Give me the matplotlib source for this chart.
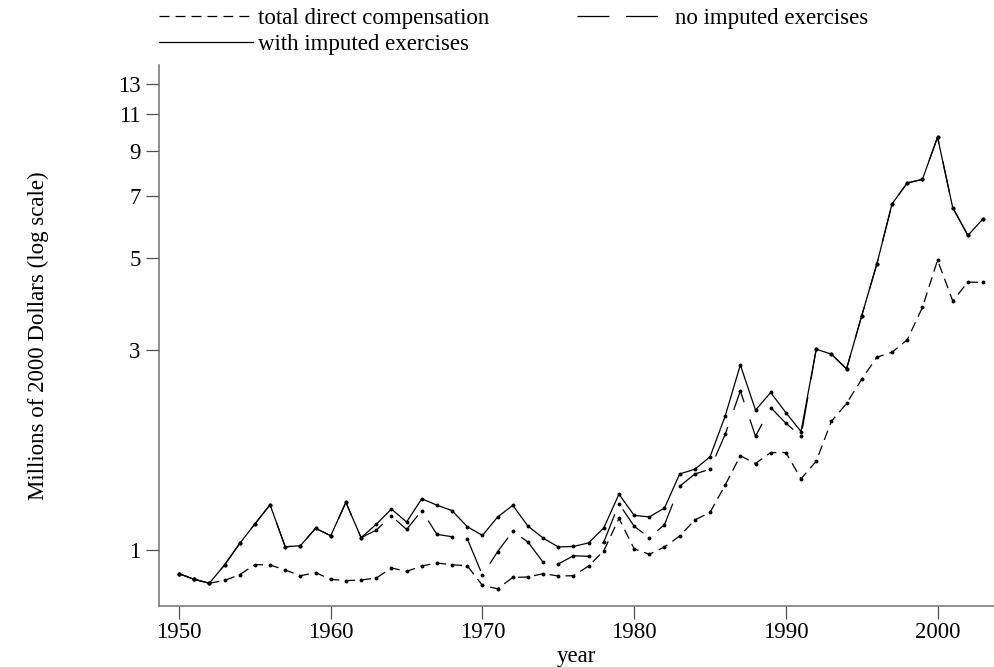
import matplotlib
matplotlib.use("Agg")
import matplotlib.pyplot as plt
import numpy as np

plt.rcParams['font.family'] = ['Liberation Serif', 'DejaVu Serif']
plt.rcParams['lines.scale_dashes'] = False

years = np.arange(1950, 2004)

# total direct compensation (millions of 2000 dollars)
total_direct = [0.878, 0.851, 0.833, 0.846, 0.873, 0.923, 0.921, 0.896, 0.868, 0.883,
                0.851, 0.845, 0.848, 0.857, 0.906, 0.889, 0.916, 0.931, 0.922, 0.917,
                0.823, 0.808, 0.860, 0.862, 0.878, 0.867, 0.868, 0.916, 0.996, 1.19,
                1.007, 0.977, 1.017, 1.08, 1.18, 1.23, 1.43, 1.68, 1.61, 1.71,
                1.71, 1.48, 1.63, 2.03, 2.24, 2.56, 2.89, 2.97, 3.18, 3.80,
                4.93, 3.94, 4.37, 4.36]

no_imputed = [0.878, 0.851, 0.833, 0.921, 1.037, 1.154, 1.283, 1.018, 1.024, 1.127,
              1.082, 1.30, 1.070, 1.116, 1.206, 1.12, 1.242, 1.09, 1.076, 1.064,
              0.871, 0.991, 1.108, 1.045, 0.935, 0.926, 0.969, 0.966, 1.045, 1.29,
              1.14, 1.07, 1.15, 1.42, 1.52, 1.56, 1.89, 2.40, 1.87, 2.19,
              2.01, 1.87, 3.02, 2.94, 2.71, 3.63, 4.83, 6.72, 7.54, 7.69,
              9.70, 6.58, 5.65, 6.19]

with_imputed = [0.878, 0.851, 0.833, 0.921, 1.037, 1.154, 1.283, 1.018, 1.024, 1.127,
                1.082, 1.30, 1.070, 1.152, 1.253, 1.167, 1.326, 1.28, 1.242, 1.137,
                1.084, 1.199, 1.279, 1.141, 1.068, 1.017, 1.02, 1.04, 1.13, 1.36,
                1.21, 1.20, 1.26, 1.52, 1.56, 1.67, 2.09, 2.77, 2.16, 2.38,
                2.13, 1.92, 3.02, 2.94, 2.71, 3.63, 4.83, 6.72, 7.54, 7.69,
                9.70, 6.58, 5.65, 6.19]

yticks = [1, 3, 5, 7, 9, 11, 13]
xticks = [1950, 1960, 1970, 1980, 1990, 2000]

fs = 16.5
fig = plt.figure(figsize=(9.94, 6.67), dpi=100)
ax = fig.add_axes([0.1595, 0.0915, 0.8405, 0.811])

l1, = ax.plot(years, total_direct, color='black', lw=0.9, marker='o', ms=1.8,
              dashes=(7.2, 4.3), label='total direct compensation')
l2, = ax.plot(years, no_imputed, color='black', lw=0.9, marker='o', ms=1.8,
              dashes=(23, 13), label='no imputed exercises')
l3, = ax.plot(years, with_imputed, color='black', lw=0.9, marker='o', ms=1.8,
              label='with imputed exercises')

ax.set_yscale('log')
ax.set_ylim(0.735, 14.43)
ax.set_xlim(1948.65, 2003.72)
ax.set_yticks(yticks)
ax.set_yticklabels([str(t) for t in yticks])
ax.yaxis.set_minor_locator(matplotlib.ticker.NullLocator())
ax.set_xticks(xticks)

for s in ['top', 'right']:
    ax.spines[s].set_visible(False)
for s in ['left', 'bottom']:
    ax.spines[s].set_color('#707070')
    ax.spines[s].set_linewidth(1.1)
ax.tick_params(axis='both', length=9.4, width=0.9, color='#505050', labelsize=fs)
ax.tick_params(axis='y', pad=3.5)
ax.tick_params(axis='x', pad=2.5)

ax.set_xlabel('year', fontsize=fs, labelpad=1.5)
ax.set_ylabel('Millions of 2000 Dollars (log scale)', fontsize=fs)
ax.yaxis.set_label_coords(-0.131, 0.5)

# legend: first column two entries, second column one
leg = fig.legend(handles=[l1, l3, l2], ncol=2, loc='upper left',
                 bbox_to_anchor=(0.151, 1.0015), frameon=False, fontsize=fs,
                 handlelength=4.1, handletextpad=0.2, columnspacing=3.82,
                 labelspacing=0.2, borderaxespad=0)
for h in leg.legend_handles:
    h.set_marker('')
leg.legend_handles[2].set_dashes((23, 12))

fig.savefig('out.png', dpi=100)
